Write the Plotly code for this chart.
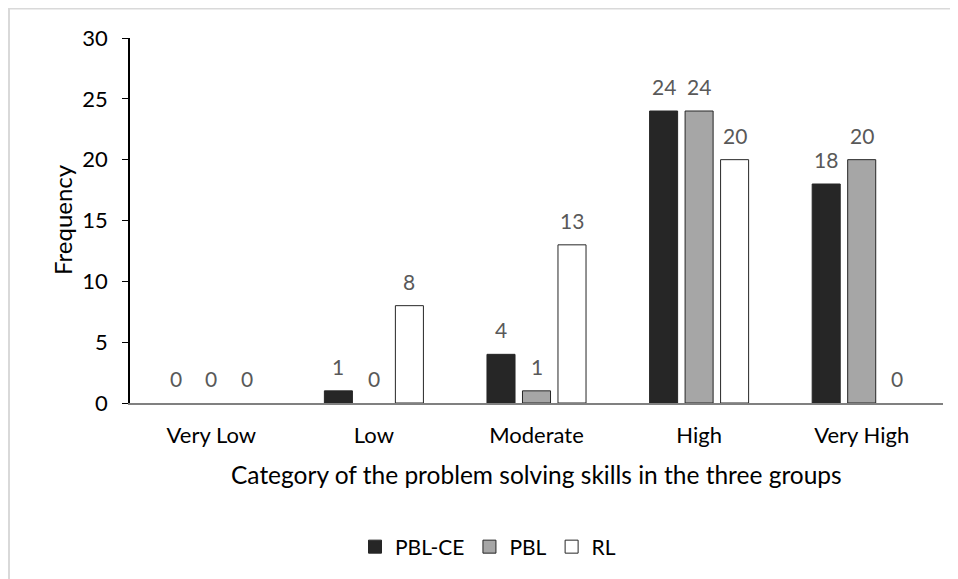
import plotly.graph_objects as go

categories = ["Very Low", "Low", "Moderate", "High", "Very High"]
pbl_ce = [0, 1, 4, 24, 18]
pbl = [0, 0, 1, 24, 20]
rl = [0, 8, 13, 20, 0]
series_names = ["PBL-CE", "PBL", "RL"]
series_colors = ["#262626", "#a6a6a6", "#ffffff"]
y_ticks = [0, 5, 10, 15, 20, 25, 30]

FONT = "Lato, 'Open Sans', sans-serif"

# figure sits at page offset (8, 8) because of the body margin
OFF = 8
W, H = 950, 571
L, R, T, B = 122, 15, 30, 176
pw, ph = W - L - R, H - T - B


def px_x(p):  # page pixel -> paper x
    return (p - OFF - L) / pw


def px_y(p):  # page pixel -> paper y
    return 1 - (p - OFF - T) / ph


BARGAP, GROUPGAP = 0.345, 0.21
slot_px = pw / len(categories) * (1 - BARGAP) / len(series_names)

fig = go.Figure()
annotations = []
all_vals = [pbl_ce, pbl, rl]
for i, (name, vals, col) in enumerate(zip(series_names, all_vals, series_colors)):
    fig.add_trace(go.Bar(
        x=categories, y=vals, name=name, legendgroup=name, showlegend=False,
        marker=dict(color=col, line=dict(color="#262626", width=[1 if v > 0 else 0 for v in vals])),
    ))
    shift = (i - 1) * slot_px
    for c, v in zip(categories, vals):
        annotations.append(dict(
            x=c, y=v, xref="x", yref="y", text=str(v), showarrow=False,
            xshift=shift, yshift=10, yanchor="bottom", xanchor="center",
            font=dict(color="#595959", size=21, family=FONT),
        ))

# legend entries (square symbol with outline), do not take bar slots
for name, col in zip(series_names, series_colors):
    fig.add_trace(go.Scatter(
        x=[None], y=[None], name=name, legendgroup=name, showlegend=True, mode="markers",
        marker=dict(symbol="square", size=13, color=col, line=dict(color="#262626", width=1)),
    ))

annotations.append(dict(
    x=px_x(536), y=px_y(474), xref="paper", yref="paper", showarrow=False,
    text="Category of the problem solving skills in the three groups",
    xanchor="center", yanchor="middle", font=dict(size=24.5, color="#000000", family=FONT)))
annotations.append(dict(
    x=px_x(63), y=px_y(220), xref="paper", yref="paper", showarrow=False,
    text="Frequency", textangle=-90,
    xanchor="center", yanchor="middle", font=dict(size=24, color="#000000", family=FONT)))

fig.update_layout(
    width=W, height=H,
    margin=dict(l=L, r=R, t=T, b=B, autoexpand=False),
    paper_bgcolor="white", plot_bgcolor="white",
    barmode="group", bargap=BARGAP, bargroupgap=GROUPGAP,
    font=dict(family=FONT, size=21, color="#000000"),
    showlegend=True,
    legend=dict(orientation="h", x=px_x(488), xanchor="center", y=px_y(547), yanchor="middle",
                font=dict(size=21, color="#000000"), traceorder="normal", itemwidth=30),
    xaxis=dict(showline=True, linecolor="#808080", linewidth=1.5,
               ticks="outside", ticklen=12, tickcolor="rgba(0,0,0,0)",
               tickfont=dict(size=22, color="#000000"),
               showgrid=False),
    yaxis=dict(range=[0, 30], tickvals=y_ticks, showline=True, linecolor="#000000", linewidth=1.5,
               ticks="outside", ticklen=6, tickcolor="#000000", showgrid=False, zeroline=False,
               ticklabelstandoff=10,
               tickfont=dict(size=22, color="#000000")),
    annotations=annotations,
    shapes=[
        dict(type="line", xref="paper", yref="paper", x0=px_x(9), x1=px_x(9), y0=px_y(8), y1=px_y(700),
             line=dict(color="#d9d9d9", width=2), layer="below"),
        dict(type="line", xref="paper", yref="paper", x0=px_x(8), x1=px_x(1000), y0=px_y(8.5), y1=px_y(8.5),
             line=dict(color="#d9d9d9", width=2), layer="below"),
    ],
)

fig.write_html("out.html")
